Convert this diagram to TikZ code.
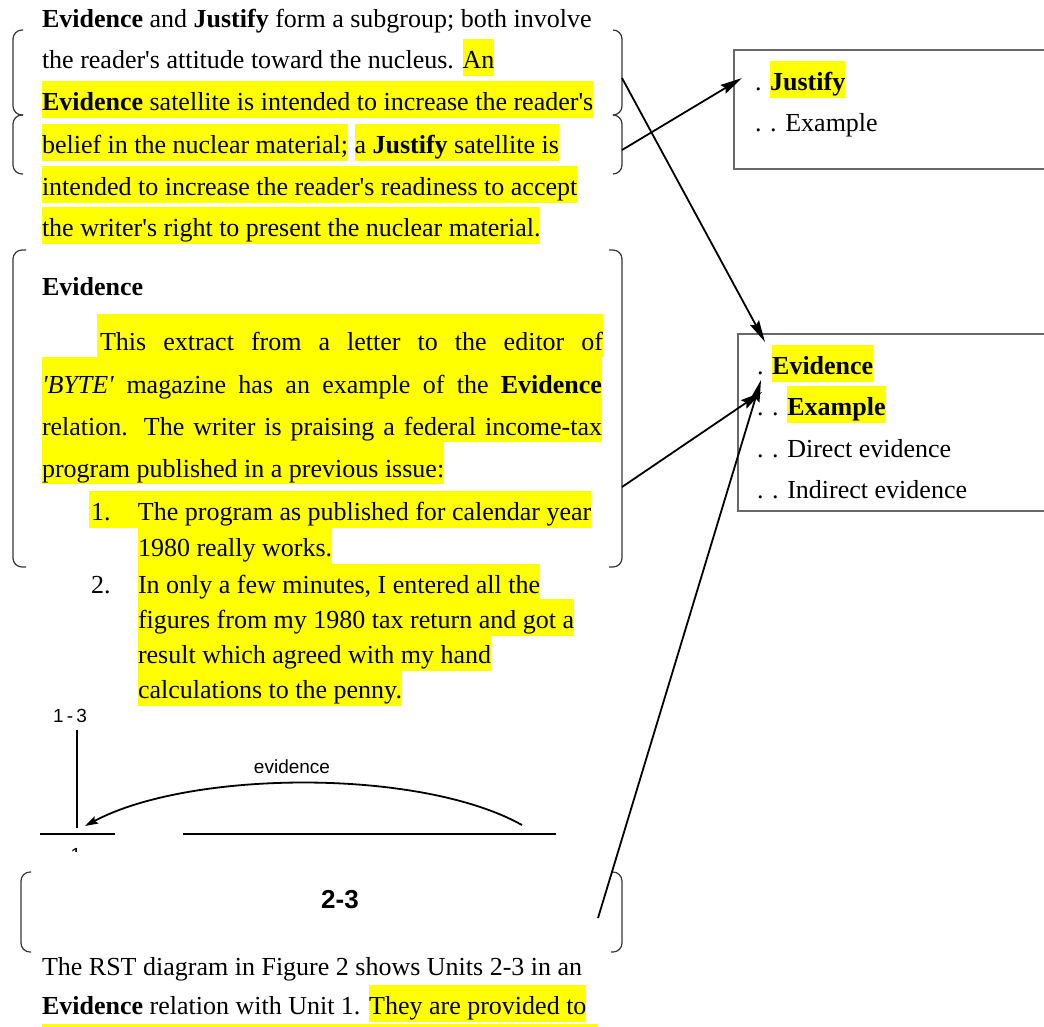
\documentclass[tikz,border=0pt]{standalone}
\usepackage{fontspec}
\setmainfont{Liberation Serif}[Ligatures=TeXOff]
\newfontfamily\labelsans{Liberation Sans}
\usetikzlibrary{arrows.meta}

\definecolor{hlyellow}{RGB}{255,255,0}
\definecolor{framegray}{RGB}{105,105,105}
\definecolor{bracegray}{RGB}{55,55,55}

% highlighter: the yellow band is drawn in a first pass, the glyphs in a second
\newif\ifhlbg
\newcommand\hlband[3]{\ifhlbg{\setlength{\fboxsep}{0pt}\colorbox{hlyellow}{\vrule height #1 depth #2 width 0pt\phantom{#3}}}\else#3\fi}
\newcommand\hlt[1]{\hlband{29pt}{8pt}{#1}}
\newcommand\hlp[1]{\hlband{36pt}{7pt}{#1}}
% plain (unmarked) text: only a blank of the same width in the first pass
\newcommand\pl[1]{\ifhlbg\phantom{#1}\else#1\fi}
\newcommand\bodyfont{\fontsize{26}{30}\selectfont}

\pgfdeclarelayer{paper}
\pgfdeclarelayer{hlbg}
\pgfsetlayers{paper,hlbg,main}

% one line of marked text: bands on their own layer, glyphs on top
\newcommand\textline[3]{%
  \begin{pgfonlayer}{hlbg}
    \node[txt] (#1bg) at (#2) {\hlbgtrue#3};
  \end{pgfonlayer}
  \node[txt] (#1) at (#2) {\hlbgfalse#3};}

\begin{document}
\begin{tikzpicture}[x=1pt,y=-1pt,
  txt/.style={anchor=base west,inner sep=0pt,outer sep=0pt,font=\bodyfont},
  brk/.style={draw=bracegray,line width=1.2pt,rounded corners=9pt},
  arr/.style={draw=black,line width=1.8pt,-{Stealth[length=22pt,width=10pt,inset=3pt]}},
  rbox/.style={draw=framegray,line width=1.6pt,inner sep=0pt,anchor=north west},
  rstline/.style={draw=black,line width=2.2pt},
  rstlabel/.style={inner sep=0pt,font=\labelsans\fontsize{19}{22}\selectfont}]

\useasboundingbox (0,0) rectangle (1044,1026);
\begin{pgfonlayer}{paper}
  \fill[white] (0,0) rectangle (1044,1026);
\end{pgfonlayer}

% ---- opening paragraph on the subgroup
\node[txt] (t1) at (42,27) {\textbf{Evidence} and \textbf{Justify} form a subgroup; both involve};
\textline{t2}{42,68}{\pl{the reader's attitude toward the nucleus. }\hlt{An}}
\textline{t3}{42,110}{\hlt{\textbf{Evidence} satellite is intended to increase the reader's}}
\textline{t4}{42,153}{\hlt{belief in the nuclear material;} \hlt{a \textbf{Justify} satellite is}}
\textline{t5}{42,195}{\hlt{intended to increase the reader's readiness to accept}}
\textline{t6}{42,236}{\hlt{the writer's right to present the nuclear material.}}

% ---- Evidence section
\node[txt] (hd) at (42,295) {\textbf{Evidence}};
\textline{p1}{97,350}{\hlp{\makebox[506pt][s]{\hspace{3pt}This extract from a letter to the editor of}}}
\textline{p2}{42,393}{\hlp{\makebox[560pt][s]{\textit{'BYTE'} magazine has an example of the \textbf{Evidence}}}}
\textline{p3}{42,435}{\hlp{\makebox[560pt][s]{relation. The writer is praising a federal income-tax}}}
\textline{p4}{42,477}{\hlp{program published in a previous issue:}}
\textline{ia}{89,520}{\hlt{\makebox[49pt][l]{\hspace{2pt}1.}The program as published for calendar year}}
\textline{ib}{138,556}{\hlt{1980 really works.}}
\node[txt] (nb) at (91,593) {2.};
\textline{ic}{138,593}{\hlt{In only a few minutes, I entered all the}}
\textline{id}{138,628}{\hlt{figures from my 1980 tax return and got a}}
\textline{ie}{138,663}{\hlt{result which agreed with my hand}}
\textline{if}{138,698}{\hlt{calculations to the penny.}}

% ---- RST diagram of units 1-3
\begin{scope}
  \clip (30,706) rectangle (580,851);
  \node[rstlabel,anchor=base] (u13) at (70,722) {1\,-\,3};
  \node[rstlabel,anchor=base] (u1) at (76,861) {1};
  \coordinate (vtop) at (77,730);
  \coordinate (vbot) at (77,828);
  \draw[rstline,line width=1.6pt] (vtop) -- (vbot);
  \coordinate (hla) at (40,834);
  \coordinate (hlb) at (115,834);
  \coordinate (hra) at (183,834);
  \coordinate (hrb) at (556,834);
  \draw[rstline] (hla) -- (hlb);
  \draw[rstline] (hra) -- (hrb);
  \coordinate (arcs) at (522,825);
  \coordinate (arct) at (85,826);
  \draw[rstline,line width=1.8pt,-{Stealth[length=13pt,width=8pt,inset=2pt]}]
    (arcs) .. controls (420,768) and (190,770) .. (arct);
  \node[rstlabel,anchor=base] (evl) at (292,773) {evidence};
\end{scope}

\node[anchor=base,inner sep=0pt,font=\labelsans\bfseries\fontsize{26}{30}\selectfont] (u23) at (340,908) {2-3};

% ---- closing paragraph
\node[txt] (b1) at (42,975) {The RST diagram in Figure 2 shows Units 2-3 in an};
\textline{b2}{42,1014}{\pl{\textbf{Evidence} relation with Unit 1. }\hlt{They are provided to}}
\fill[hlyellow] (42,1024) rectangle (597,1032);

% ---- brackets round the linked passages
\draw[brk] (23,30) -- (13,30) -- (13,115) -- (23,115);
\draw[brk] (23,115) -- (13,115) -- (13,174) -- (23,174);
\draw[brk] (613,30) -- (622,30) -- (622,115) -- (613,115);
\draw[brk] (613,115) -- (622,115) -- (622,174) -- (613,174);
\draw[brk] (26,250) -- (13,250) -- (13,567) -- (26,567);
\draw[brk] (609,250) -- (622,250) -- (622,567) -- (609,567);
\draw[brk] (31,872) -- (21,872) -- (21,952) -- (31,952);
\draw[brk] (611,872) -- (622,872) -- (622,952) -- (611,952);

% ---- category boxes on the right
\node[rbox,minimum width=340pt,minimum height=119pt] (jbox) at (733,49) {};
\textline{j1}{755,90}{\pl{. }\hlt{\textbf{Justify}}}
\node[txt] (j2) at (755,131) {. . Example};

\node[rbox,minimum width=340pt,minimum height=177pt] (ebox) at (737,333) {};
\textline{e1}{757,374}{\pl{. }\hlt{\textbf{Evidence}}}
\textline{e2}{757,415}{\pl{. . }\hlt{\textbf{Example}}}
\node[txt] (e3) at (757,457) {. . Direct evidence};
\node[txt] (e4) at (757,498) {. . Indirect evidence};

% ---- links from passages to categories
\coordinate (sA) at (622,78);
\coordinate (sB) at (622,150);
\coordinate (sC) at (622,487);
\coordinate (sD) at (598,918);
\coordinate (tJ) at (742,78);
\coordinate (tE1) at (765,342);
\coordinate (tE2) at (762,392);
\coordinate (tE3) at (761,380);
\draw[arr] (sA) -- (tE1);
\draw[arr] (sB) -- (tJ);
\draw[arr] (sC) -- (tE2);
\draw[arr] (sD) -- (tE3);

\end{tikzpicture}
\end{document}
